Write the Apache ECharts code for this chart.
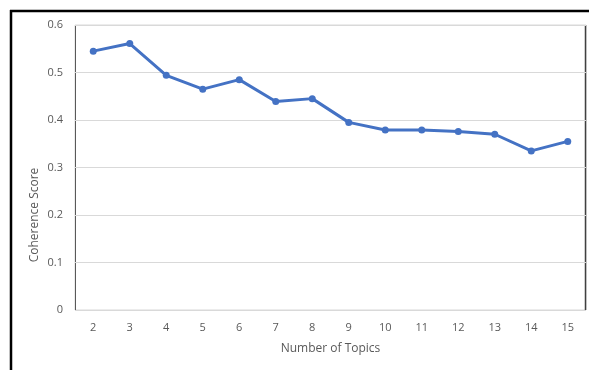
<!DOCTYPE html>
<html>
<head>
<meta charset="utf-8">
<script src="https://cdn.jsdelivr.net/npm/echarts@6/dist/echarts.min.js"></script>
<style>
  html, body { margin: 0; padding: 0; background: #fff; }
  #chart { width: 589px; height: 370px; }
</style>
</head>
<body>
<div id="chart"></div>
<script>
// topics vs coherence
var topics = ["2", "3", "4", "5", "6", "7", "8", "9", "10", "11", "12", "13", "14", "15"];
var coherence = [0.545, 0.561, 0.494, 0.465, 0.485, 0.439, 0.445, 0.395, 0.379, 0.379, 0.376, 0.370, 0.335, 0.355];
var yTicks = [0, 0.1, 0.2, 0.3, 0.4, 0.5, 0.6];

var chart = echarts.init(document.getElementById("chart"));
var textColor = "#595959";
var fontFam = "'Open Sans', 'Liberation Sans', sans-serif";

// plot box edges (grid: left 75, right 3, top 25, bottom 60)
var boxL = 75, boxR = 589 - 3, boxT = 25, boxB = 370 - 60;

chart.setOption({
  animation: false,
  grid: {
    left: 75,
    right: 3,
    top: 25,
    bottom: 60,
    containLabel: false,
    show: true,
    borderWidth: 1,
    borderColor: "#d9d9d9"
  },
  xAxis: {
    type: "category",
    data: topics,
    boundaryGap: true,
    name: "Number of Topics",
    nameLocation: "middle",
    nameGap: 33,
    nameTextStyle: { color: textColor, fontSize: 12, fontFamily: fontFam },
    axisTick: { show: false },
    splitLine: { show: false },
    axisLine: { show: false },
    axisLabel: { color: textColor, fontSize: 11, fontFamily: fontFam, margin: 12 }
  },
  yAxis: {
    type: "value",
    min: 0,
    max: yTicks[yTicks.length - 1],
    interval: 0.1,
    axisTick: { show: false },
    axisLine: { show: false },
    axisLabel: {
      color: textColor,
      fontSize: 11,
      fontFamily: fontFam,
      margin: 12,
      formatter: function (v) { return String(Math.round(v * 10) / 10); }
    },
    splitLine: { show: true, lineStyle: { color: "#d9d9d9", width: 1 } }
  },
  graphic: [
    {
      type: "text",
      x: 35,
      y: 215,
      rotation: Math.PI / 2,
      style: {
        text: "Coherence Score",
        fill: textColor,
        font: "12px " + fontFam,
        textAlign: "center",
        textVerticalAlign: "middle"
      }
    },
    {
      type: "line",
      shape: { x1: boxL + 0.5, y1: boxT, x2: boxL + 0.5, y2: boxB },
      style: { stroke: "#595959", lineWidth: 1 }
    },
    {
      type: "line",
      shape: { x1: boxR - 0.5, y1: boxT, x2: boxR - 0.5, y2: boxB },
      style: { stroke: "#404040", lineWidth: 1.5 }
    },
    {
      type: "line",
      shape: { x1: 10, y1: 11, x2: 589, y2: 11 },
      style: { stroke: "#000", lineWidth: 2.5 }
    },
    {
      type: "line",
      shape: { x1: 11, y1: 10, x2: 11, y2: 370 },
      style: { stroke: "#000", lineWidth: 2.5 }
    }
  ],
  series: [
    {
      name: "Coherence Score",
      type: "line",
      data: coherence,
      symbol: "circle",
      symbolSize: 7,
      itemStyle: { color: "#4472c4" },
      lineStyle: { color: "#4472c4", width: 3 }
    }
  ]
});
</script>
</body>
</html>
